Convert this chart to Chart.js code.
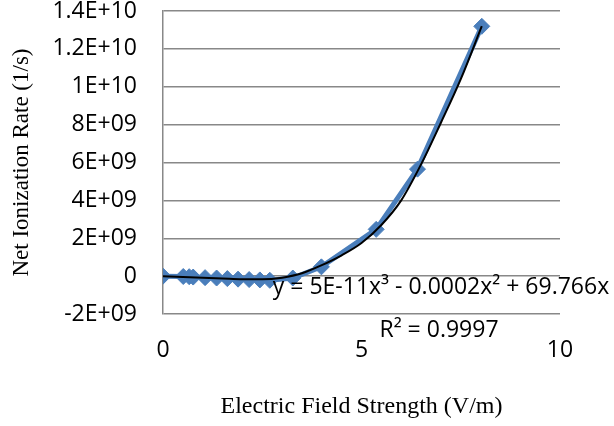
<!DOCTYPE html>
<html>
<head>
<meta charset="utf-8">
<script src="https://cdn.jsdelivr.net/npm/chart.js@4.4.1/dist/chart.umd.min.js"></script>
<style>
    html, body { margin: 0; padding: 0; background: #fff; }
    #wrap { width: 614px; height: 426px; }
</style>
</head>
<body>
<div id="wrap"><canvas id="chart" width="614" height="426"></canvas></div>
<script>
// Measured points (field strength in V/m, rate in 1/s)
const fieldStrength = [0, 0.51, 0.66, 0.76, 1.06, 1.35, 1.62, 1.89, 2.17, 2.44, 2.69, 3.27, 3.99, 5.37, 6.41, 8.03];
const ionizationRate = [0, -0.02e9, -0.03e9, -0.05e9, -0.08e9, -0.1e9, -0.13e9, -0.16e9, -0.18e9, -0.2e9, -0.22e9, -0.1e9, 0.49e9, 2.47e9, 5.65e9, 13.19e9];

// Poly trendline
const trendX = [0, 0.5, 1, 1.5, 2, 2.5, 3, 3.5, 4, 4.5, 5, 5.5, 6, 6.5, 7, 7.5, 8.03];
const trendY = [0, -0.04e9, -0.08e9, -0.12e9, -0.16e9, -0.17e9, -0.08e9, 0.15e9, 0.58e9, 1.1e9, 1.75e9, 2.7e9, 4.0e9, 5.9e9, 8.1e9, 10.4e9, 13.2e9];

const yTickLabels = ['-2E+09', '0', '2E+09', '4E+09', '6E+09', '8E+09', '1E+10', '1.2E+10', '1.4E+10'];
const xTickLabels = ['0', '5', '10'];

const equationText = 'y = 5E-11x\u00B3 - 0.0002x\u00B2 + 69.766x';
const rSquaredText = 'R\u00B2 = 0.9997';

const sansFont = "'Open Sans', sans-serif";
const serifFont = "'Liberation Serif', 'Times New Roman', serif";

const toPoints = (xs, ys) => xs.map((x, i) => ({ x: x, y: ys[i] }));

// Strip the label overhang padding so the plot area sits where it should
const noPad = (axis) => {
    axis.paddingTop = 0;
    axis.paddingBottom = 0;
    axis.paddingLeft = 0;
    axis.paddingRight = 0;
};

// Draws the trendline equation under the curve
const equationLabel = {
    id: 'equationLabel',
    afterDraw(chart) {
        const ctx = chart.ctx;
        const area = chart.chartArea;
        ctx.save();
        ctx.fillStyle = '#000';
        ctx.font = '23px ' + sansFont;
        ctx.textAlign = 'center';
        ctx.textBaseline = 'middle';
        ctx.fillText(equationText, area.right - 119, area.bottom - 27);
        ctx.fillText(rSquaredText, area.right - 121, area.bottom + 16);
        ctx.restore();
    }
};

new Chart(document.getElementById('chart'), {
    type: 'scatter',
    data: {
        datasets: [{
            label: 'Trend',
            data: toPoints(trendX, trendY),
            showLine: true,
            borderColor: '#000',
            borderWidth: 2,
            pointRadius: 0,
            cubicInterpolationMode: 'monotone',
            order: 0
        }, {
            label: 'Net Ionization Rate',
            data: toPoints(fieldStrength, ionizationRate),
            showLine: true,
            borderColor: '#4A7EBB',
            backgroundColor: '#4A7EBB',
            borderWidth: 5,
            pointStyle: 'rectRot',
            pointRadius: 8,
            pointBorderWidth: 1,
            pointBorderColor: '#4A7EBB',
            pointBackgroundColor: '#4A7EBB',
            order: 1
        }]
    },
    options: {
        responsive: false,
        animation: false,
        layout: { padding: { top: 11, right: 54, left: 0, bottom: 0 } },
        plugins: {
            legend: { display: false },
            tooltip: { enabled: false }
        },
        scales: {
            x: {
                type: 'linear',
                min: 0,
                max: 10,
                afterBuildTicks: (axis) => { axis.ticks = [0, 5, 10].map(v => ({ value: v })); },
                afterFit: (axis) => { axis.height = 112; noPad(axis); },
                grid: { display: false, drawTicks: false },
                border: { display: false },
                ticks: {
                    padding: 23,
                    color: '#000',
                    font: { family: sansFont, size: 23 },
                    callback: (v, i) => xTickLabels[i]
                },
                title: {
                    display: true,
                    text: 'Electric Field Strength (V/m)',
                    color: '#000',
                    font: { family: serifFont, size: 24 },
                    padding: { top: 0, bottom: 5 }
                }
            },
            y: {
                min: -2e9,
                max: 1.4e10,
                afterBuildTicks: (axis) => {
                    axis.ticks = yTickLabels.map((_, i) => ({ value: -2e9 + i * 2e9 }));
                },
                afterFit: (axis) => { axis.width = 163; noPad(axis); },
                grid: { color: '#888', lineWidth: 1.5, drawTicks: false },
                border: { display: true, color: '#888', width: 1.5 },
                ticks: {
                    padding: 26,
                    color: '#000',
                    font: { family: sansFont, size: 23 },
                    callback: (v, i) => yTickLabels[i]
                },
                title: {
                    display: true,
                    text: 'Net Ionization Rate (1/s)',
                    color: '#000',
                    font: { family: serifFont, size: 23 },
                    padding: { top: 8, bottom: 0 }
                }
            }
        }
    },
    plugins: [equationLabel]
});
</script>
</body>
</html>
